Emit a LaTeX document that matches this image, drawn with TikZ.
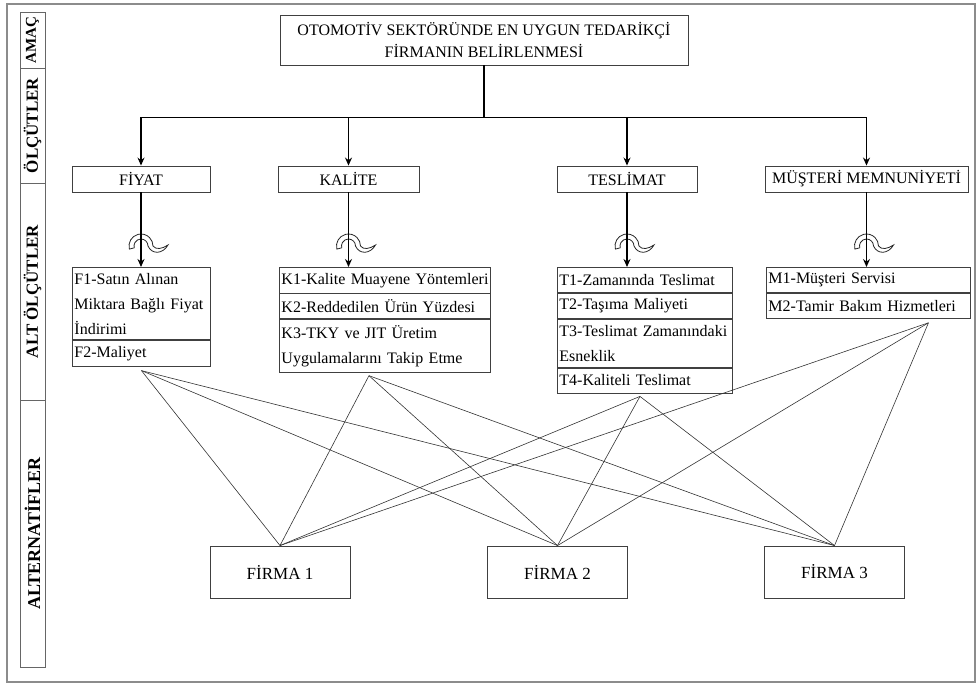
\documentclass[tikz,border=0pt]{standalone}
\usepackage{fontspec}
\setmainfont{Liberation Serif}
\usetikzlibrary{arrows.meta,positioning,calc}
\hyphenpenalty=10000

\begin{document}
\begin{tikzpicture}[x=1pt,y=1pt,
	box/.style={draw=black!75, line width=0.9pt, align=center, inner sep=0pt, font=\fontsize{16}{22}\selectfont},
	row/.style={draw=black!75, line width=0.9pt, align=left, text width=#1, inner xsep=2pt, inner ysep=5.5pt, minimum height=25pt, font=\fontsize{16}{25}\selectfont},
	band/.style={draw=black!60, line width=0.9pt, rotate=90, minimum height=25pt, inner sep=0pt, font=\fontsize{17}{17}\selectfont\bfseries},
	arr/.style={-{Stealth[length=8pt,width=7pt]}, line width=1.2pt},
	link/.style={draw=black!80, line width=0.6pt},
	turn/.style={draw=black!85, fill=white, line width=0.8pt}
	]
	\useasboundingbox (0,0) rectangle (980,-687);
	\draw[draw=black!45, line width=1.2pt] (7,-4) rectangle (975,-682);

	\node[band, minimum width=56pt, font=\fontsize{15}{15}\selectfont\bfseries] (amac) at (32.5,-40) {AMAÇ};
	\node[band, minimum width=115pt] (olcut) at (32.5,-125.5) {ÖLÇÜTLER};
	\node[band, minimum width=217pt] (altolcut) at (32.5,-291.5) {ALT ÖLÇÜTLER};
	\node[band, minimum width=267pt, font=\fontsize{18}{18}\selectfont\bfseries] (alter) at (32.5,-533.5) {ALTERNATİFLER};

	\node[box, minimum width=408pt, minimum height=50pt] (goal) at (484,-40) {OTOMOTİV SEKTÖRÜNDE EN UYGUN TEDARİKÇİ\\FİRMANIN BELİRLENMESİ};
	\coordinate (bar) at ($(goal.south)+(0,-52)$);

	\node[box, minimum width=138pt, minimum height=26pt] (fiyat) at (141,-179) {FİYAT};
	\node[box, minimum width=141pt, minimum height=26pt] (kalite) at (348.5,-179) {KALİTE};
	\node[box, minimum width=140pt, minimum height=26pt] (teslimat) at (627,-179) {TESLİMAT};
	\node[box, minimum width=203pt, minimum height=26pt] (musteri) at (866.5,-179) {MÜŞTERİ MEMNUNİYETİ};

	\node[row=134pt, anchor=north west] (f1) at (72,-267) {F1-Satın Alınan\\Miktara Bağlı Fiyat\\İndirimi};
	\node[row=134pt, below=0pt of f1] (f2) {F2-Maliyet};

	\node[row=207pt, anchor=north west] (k1) at (279,-267) {\mbox{K1-Kalite Muayene Yöntemleri}};
	\node[row=207pt, below=0pt of k1] (k2) {\mbox{K2-Reddedilen Ürün Yüzdesi}};
	\node[row=207pt, below=0pt of k2] (k3) {K3-TKY ve JIT Üretim\\Uygulamalarını Takip Etme};

	\node[row=171pt, anchor=north west] (t1) at (557,-267) {T1-Zamanında Teslimat};
	\node[row=171pt, below=0pt of t1] (t2) {T2-Taşıma Maliyeti};
	\node[row=171pt, below=0pt of t2] (t3) {\mbox{T3-Teslimat Zamanındaki}\\Esneklik};
	\node[row=171pt, below=0pt of t3] (t4) {T4-Kaliteli Teslimat};

	\node[row=200pt, anchor=north west] (m1) at (766,-267) {M1-Müşteri Servisi};
	\node[row=200pt, below=0pt of m1] (m2) {\mbox{M2-Tamir Bakım Hizmetleri}};

	\node[box, minimum width=140pt, minimum height=52pt, font=\fontsize{17}{17}\selectfont] (firma1) at (280,-572) {FİRMA 1};
	\node[box, minimum width=140pt, minimum height=52pt, font=\fontsize{17}{17}\selectfont] (firma2) at (557.5,-572) {FİRMA 2};
	\node[box, minimum width=140pt, minimum height=52pt, font=\fontsize{17}{17}\selectfont] (firma3) at (834.5,-572) {FİRMA 3};

	\foreach \c in {fiyat,kalite,teslimat,musteri}
		\draw[arr] (goal.south) -- (bar) -| (\c.north);

	\foreach \cx in {141,348.5,627,866.5}
		\draw[turn] (\cx-11.6,-249.1) arc[start angle=195,end angle=0,radius=12]
			.. controls (\cx+15,-250) and (\cx+21,-249) .. (\cx+27,-245)
			.. controls (\cx+22,-254) and (\cx+11,-255) .. (\cx+7,-246)
			arc[start angle=0,end angle=195,radius=7] -- cycle;

	\foreach \c/\s in {fiyat/f1,kalite/k1,teslimat/t1,musteri/m1}
		\draw[arr] (\c.south) -- (\c.south |- \s.north);

	\coordinate (fo) at ([yshift=-4pt]f2.south);
	\coordinate (ko) at ([xshift=-16pt,yshift=-3pt]k3.south);
	\coordinate (to) at ([xshift=-5pt,yshift=-3pt]t4.south);
	\coordinate (mo) at ([xshift=60pt,yshift=-4pt]m2.south);

	\foreach \o in {fo,ko,to,mo}
		\foreach \f in {firma1,firma2,firma3}
			\draw[link] (\o) -- (\f.north);
\end{tikzpicture}
\end{document}
